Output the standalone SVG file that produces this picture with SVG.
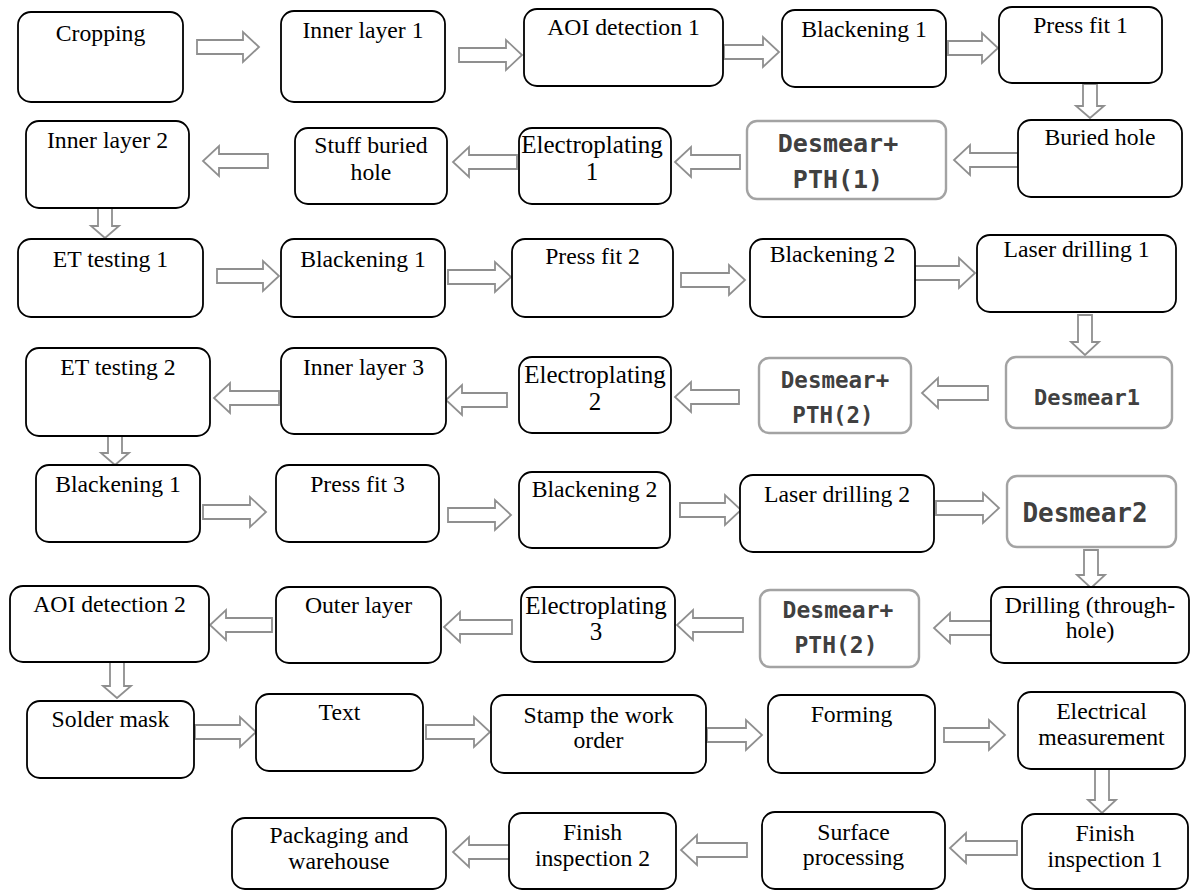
<svg xmlns="http://www.w3.org/2000/svg" width="1190" height="891" viewBox="0 0 1190 891">
<defs>
<style>
.bx{fill:#fff;stroke:#000;stroke-width:1.8}
.gb{fill:#fff;stroke:#a3a3a3;stroke-width:2.4}
.t{font-family:"Liberation Serif","Times New Roman",serif;font-size:23.7px;fill:#000;text-anchor:middle}
.te{font-family:"Liberation Serif","Times New Roman",serif;font-size:25px;fill:#000;text-anchor:middle}
.d{font-family:"DejaVu Sans Mono",monospace;font-weight:bold;fill:#404040;text-anchor:middle}
.ar{fill:#fff;stroke:#8f8f8f;stroke-width:1.8;stroke-linejoin:miter}
</style>
</defs>
<rect width="1190" height="891" fill="#fff"/>
<g id="connectors">
<polygon class="ar" points="197,40 243,40 243,32 259,47 243,62 243,54 197,54"/>
<polygon class="ar" points="459,48 506,48 506,40 522,55 506,70 506,62 459,62"/>
<polygon class="ar" points="724,45 763,45 763,37 779,52 763,67 763,59 724,59"/>
<polygon class="ar" points="948,41 982,41 982,33 998,48 982,63 982,55 948,55"/>
<polygon class="ar" points="1083,84 1097,84 1097,106 1104,106 1090,118 1076,106 1083,106"/>
<polygon class="ar" points="1018,153 970,153 970,145 954,160 970,175 970,167 1018,167"/>
<polygon class="ar" points="740,155 691,155 691,147 675,162 691,177 691,169 740,169"/>
<polygon class="ar" points="517,155 469,155 469,147 453,162 469,177 469,169 517,169"/>
<polygon class="ar" points="268,154 219,154 219,146 203,161 219,176 219,168 268,168"/>
<polygon class="ar" points="98,208 112,208 112,226 119,226 105,238 91,226 98,226"/>
<polygon class="ar" points="217,269 263,269 263,261 279,276 263,291 263,283 217,283"/>
<polygon class="ar" points="448,270 495,270 495,262 511,277 495,292 495,284 448,284"/>
<polygon class="ar" points="681,273 729,273 729,265 745,280 729,295 729,287 681,287"/>
<polygon class="ar" points="915,266 959,266 959,258 975,273 959,288 959,280 915,280"/>
<polygon class="ar" points="1078,315 1092,315 1092,342 1099,342 1085,355 1071,342 1078,342"/>
<polygon class="ar" points="988,386 938,386 938,378 922,393 938,408 938,400 988,400"/>
<polygon class="ar" points="739,390 691,390 691,382 675,397 691,412 691,404 739,404"/>
<polygon class="ar" points="507,393 462,393 462,385 446,400 462,415 462,407 507,407"/>
<polygon class="ar" points="279,391 230,391 230,383 214,398 230,413 230,405 279,405"/>
<polygon class="ar" points="108,436 122,436 122,453 129,453 115,465 101,453 108,453"/>
<polygon class="ar" points="203,505 250,505 250,497 266,512 250,527 250,519 203,519"/>
<polygon class="ar" points="448,508 495,508 495,500 511,515 495,530 495,522 448,522"/>
<polygon class="ar" points="680,503 725,503 725,495 741,510 725,525 725,517 680,517"/>
<polygon class="ar" points="936,501 983,501 983,493 999,508 983,523 983,515 936,515"/>
<polygon class="ar" points="1084,550 1098,550 1098,575 1105,575 1091,588 1077,575 1084,575"/>
<polygon class="ar" points="992,621 950,621 950,613 934,628 950,643 950,635 992,635"/>
<polygon class="ar" points="743,618 693,618 693,610 677,625 693,640 693,632 743,632"/>
<polygon class="ar" points="512,620 460,620 460,612 444,627 460,642 460,634 512,634"/>
<polygon class="ar" points="272,618 226,618 226,610 210,625 226,640 226,632 272,632"/>
<polygon class="ar" points="110,662 124,662 124,686 131,686 117,698 103,686 110,686"/>
<polygon class="ar" points="195,725 240,725 240,717 256,732 240,747 240,739 195,739"/>
<polygon class="ar" points="426,725 474,725 474,717 490,732 474,747 474,739 426,739"/>
<polygon class="ar" points="707,728 746,728 746,720 762,735 746,750 746,742 707,742"/>
<polygon class="ar" points="944,728 989,728 989,720 1005,735 989,750 989,742 944,742"/>
<polygon class="ar" points="1095,769 1109,769 1109,800 1116,800 1102,813 1088,800 1095,800"/>
<polygon class="ar" points="1017,841 966,841 966,833 950,848 966,863 966,855 1017,855"/>
<polygon class="ar" points="747,843 697,843 697,835 681,850 697,865 697,857 747,857"/>
<polygon class="ar" points="511,845 469,845 469,837 453,852 469,867 469,859 511,859"/>
</g>
<g id="n1"><rect class="bx" x="18" y="12" width="165" height="90" rx="13"/><text class="t" x="100.5" y="41">Cropping</text></g>
<g id="n2"><rect class="bx" x="281" y="11" width="164" height="91" rx="13"/><text class="t" x="363" y="38">Inner layer 1</text></g>
<g id="n3"><rect class="bx" x="524" y="9" width="199" height="77" rx="13"/><text class="t" x="623.5" y="35">AOI detection 1</text></g>
<g id="n4"><rect class="bx" x="782" y="10" width="164" height="77" rx="13"/><text class="t" x="864" y="37">Blackening 1</text></g>
<g id="n5"><rect class="bx" x="999" y="7" width="163" height="76" rx="13"/><text class="t" x="1080.5" y="33">Press fit 1</text></g>
<g id="n6"><rect class="bx" x="1018" y="120" width="164" height="77" rx="13"/><text class="t" x="1100" y="145">Buried hole</text></g>
<g id="n7"><rect class="gb" x="747" y="121" width="199" height="78" rx="10"/><text class="d" x="838" y="152" font-size="25">Desmear+</text><text class="d" x="838" y="188" font-size="25">PTH(1)</text></g>
<g id="n8"><rect class="bx" x="519" y="128" width="152" height="76" rx="13"/><text class="te" x="592" y="153">Electroplating</text><text class="te" x="592" y="180">1</text></g>
<g id="n9"><rect class="bx" x="295" y="128" width="152" height="76" rx="13"/><text class="t" x="371" y="153">Stuff buried</text><text class="t" x="371" y="180">hole</text></g>
<g id="n10"><rect class="bx" x="26" y="121" width="163" height="87" rx="13"/><text class="t" x="107.5" y="148">Inner layer 2</text></g>
<g id="n11"><rect class="bx" x="18" y="239" width="185" height="78" rx="13"/><text class="t" x="110.5" y="267">ET testing 1</text></g>
<g id="n12"><rect class="bx" x="281" y="239" width="164" height="78" rx="13"/><text class="t" x="363" y="267">Blackening 1</text></g>
<g id="n13"><rect class="bx" x="512" y="239" width="161" height="78" rx="13"/><text class="t" x="592.5" y="264">Press fit 2</text></g>
<g id="n14"><rect class="bx" x="750" y="239" width="165" height="78" rx="13"/><text class="t" x="832.5" y="262">Blackening 2</text></g>
<g id="n15"><rect class="bx" x="977" y="235" width="199" height="77" rx="13"/><text class="t" x="1076.5" y="257">Laser drilling 1</text></g>
<g id="n16"><rect class="gb" x="1006" y="357" width="166" height="71" rx="10"/><text class="d" x="1087" y="405" font-size="22">Desmear1</text></g>
<g id="n17"><rect class="gb" x="759" y="358" width="152" height="75" rx="10"/><text class="d" x="835" y="388" font-size="22.5">Desmear+</text><text class="d" x="833" y="423" font-size="22.5">PTH(2)</text></g>
<g id="n18"><rect class="bx" x="519" y="357" width="152" height="76" rx="13"/><text class="te" x="595" y="383">Electroplating</text><text class="te" x="595" y="410">2</text></g>
<g id="n19"><rect class="bx" x="281" y="348" width="165" height="86" rx="13"/><text class="t" x="363.5" y="375">Inner layer 3</text></g>
<g id="n20"><rect class="bx" x="26" y="348" width="184" height="88" rx="13"/><text class="t" x="118" y="375">ET testing 2</text></g>
<g id="n21"><rect class="bx" x="36" y="465" width="164" height="77" rx="13"/><text class="t" x="118" y="492">Blackening 1</text></g>
<g id="n22"><rect class="bx" x="276" y="465" width="163" height="77" rx="13"/><text class="t" x="357.5" y="492">Press fit 3</text></g>
<g id="n23"><rect class="bx" x="519" y="472" width="151" height="76" rx="13"/><text class="t" x="594.5" y="497">Blackening 2</text></g>
<g id="n24"><rect class="bx" x="740" y="475" width="194" height="77" rx="13"/><text class="t" x="837" y="502">Laser drilling 2</text></g>
<g id="n25"><rect class="gb" x="1007" y="476" width="169" height="71" rx="10"/><text class="d" x="1085" y="522" font-size="26">Desmear2</text></g>
<g id="n26"><rect class="bx" x="991" y="587" width="198" height="76" rx="13"/><text class="t" x="1090" y="613">Drilling (through-</text><text class="t" x="1090" y="638">hole)</text></g>
<g id="n27"><rect class="gb" x="760" y="590" width="159" height="77" rx="10"/><text class="d" x="838" y="618" font-size="23">Desmear+</text><text class="d" x="836" y="653" font-size="23">PTH(2)</text></g>
<g id="n28"><rect class="bx" x="521" y="587" width="154" height="75" rx="13"/><text class="te" x="596" y="614">Electroplating</text><text class="te" x="596" y="640">3</text></g>
<g id="n29"><rect class="bx" x="276" y="587" width="165" height="76" rx="13"/><text class="t" x="358.5" y="613">Outer layer</text></g>
<g id="n30"><rect class="bx" x="10" y="586" width="199" height="76" rx="13"/><text class="t" x="109.5" y="612">AOI detection 2</text></g>
<g id="n31"><rect class="bx" x="27" y="701" width="167" height="77" rx="13"/><text class="t" x="110.5" y="727">Solder mask</text></g>
<g id="n32"><rect class="bx" x="256" y="694" width="167" height="77" rx="13"/><text class="t" x="339.5" y="720">Text</text></g>
<g id="n33"><rect class="bx" x="491" y="695" width="215" height="78" rx="13"/><text class="t" x="598.5" y="723">Stamp the work</text><text class="t" x="598.5" y="748">order</text></g>
<g id="n34"><rect class="bx" x="768" y="695" width="167" height="78" rx="13"/><text class="t" x="851.5" y="722">Forming</text></g>
<g id="n35"><rect class="bx" x="1018" y="692" width="167" height="77" rx="13"/><text class="t" x="1101.5" y="719">Electrical</text><text class="t" x="1101.5" y="745">measurement</text></g>
<g id="n36"><rect class="bx" x="1022" y="814" width="166" height="75" rx="13"/><text class="t" x="1105" y="841">Finish</text><text class="t" x="1105" y="867">inspection 1</text></g>
<g id="n37"><rect class="bx" x="762" y="812" width="183" height="77" rx="13"/><text class="t" x="853.5" y="840">Surface</text><text class="t" x="853.5" y="865">processing</text></g>
<g id="n38"><rect class="bx" x="509" y="813" width="167" height="76" rx="13"/><text class="t" x="592.5" y="840">Finish</text><text class="t" x="592.5" y="866">inspection 2</text></g>
<g id="n39"><rect class="bx" x="232" y="818" width="214" height="71" rx="13"/><text class="t" x="339" y="843">Packaging and</text><text class="t" x="339" y="869">warehouse</text></g>
</svg>
